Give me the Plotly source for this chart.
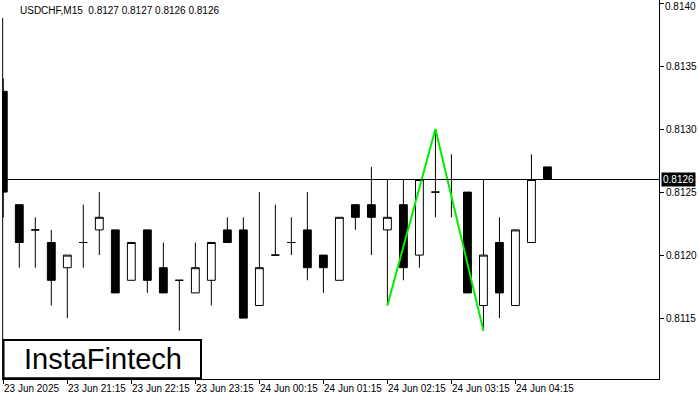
import plotly.graph_objects as go

# ---- data (USDCHF M15) ----
opens  = [0.8133, 0.8124, 0.8122, 0.8121, 0.8119, 0.8121, 0.8122, 0.8122, 0.8118, 0.8122,
          0.8119, 0.8118, 0.8117, 0.8118, 0.8122, 0.8122, 0.8116, 0.8120, 0.8121, 0.8122,
          0.8120, 0.8118, 0.8124, 0.8124, 0.8122, 0.8124, 0.8120, 0.8125, 0.8126, 0.8125,
          0.8116, 0.8121, 0.8116, 0.8121, 0.8127]
highs  = [0.8134, 0.8124, 0.8123, 0.8122, 0.8120, 0.8124, 0.8125, 0.8122, 0.8121, 0.8122,
          0.8121, 0.8118, 0.8121, 0.8121, 0.8123, 0.8123, 0.8125, 0.8124, 0.8123, 0.8125,
          0.8120, 0.8123, 0.8124, 0.8127, 0.8126, 0.8126, 0.8126, 0.8130, 0.8128, 0.8125,
          0.8126, 0.8123, 0.8122, 0.8128, 0.8127]
lows   = [0.8123, 0.8119, 0.8119, 0.8116, 0.8115, 0.8119, 0.8120, 0.8117, 0.8118, 0.8117,
          0.8117, 0.8114, 0.8117, 0.8116, 0.8121, 0.8115, 0.8116, 0.8120, 0.8120, 0.8118,
          0.8117, 0.8118, 0.8122, 0.8120, 0.8116, 0.8118, 0.8119, 0.8123, 0.8123, 0.8117,
          0.8114, 0.8115, 0.8116, 0.8121, 0.8126]
closes = [0.8125, 0.8121, 0.8122, 0.8118, 0.8120, 0.8121, 0.8123, 0.8117, 0.8121, 0.8118,
          0.8117, 0.8118, 0.8119, 0.8121, 0.8121, 0.8115, 0.8119, 0.8120, 0.8121, 0.8119,
          0.8119, 0.8123, 0.8123, 0.8123, 0.8123, 0.8119, 0.8126, 0.8125, 0.8126, 0.8117,
          0.8120, 0.8117, 0.8122, 0.8126, 0.8126]

tick_idx = [0, 4, 8, 12, 16, 20, 24, 28, 32]
tick_labels = ["23 Jun 2025", "23 Jun 21:15", "23 Jun 22:15", "23 Jun 23:15",
               "24 Jun 00:15", "24 Jun 01:15", "24 Jun 02:15", "24 Jun 03:15",
               "24 Jun 04:15"]
price_ticks = [0.8115, 0.8120, 0.8125, 0.8130, 0.8135, 0.8140]

pattern_idx = [24, 27, 30]
pattern_px = [0.8116, 0.8130, 0.8114]

last_price = 0.8126
title_text = "USDCHF,M15  0.8127 0.8127 0.8126 0.8126"
logo_text = "InstaFintech"

x = list(range(len(opens)))
FONT = "Liberation Sans, Arial, sans-serif"
Y_RANGE = [0.8110167, 0.8140246]

fig = go.Figure()
fig.add_trace(go.Candlestick(
    x=x, open=opens, high=highs, low=lows, close=closes,
    increasing=dict(fillcolor="white", line=dict(color="black", width=1)),
    decreasing=dict(fillcolor="black", line=dict(color="black", width=1)),
    whiskerwidth=0, hoverinfo="skip", showlegend=False,
))
fig.add_trace(go.Scatter(
    x=pattern_idx, y=pattern_px, mode="lines",
    line=dict(color="#00ee00", width=2), hoverinfo="skip", showlegend=False,
))

# x-axis labels as annotations, left-aligned at the tick (MT4 style)
annotations = [
    dict(text=lab, xref="x", yref="paper", x=i, y=0, xanchor="left", yanchor="top",
         yshift=-2, xshift=-1, showarrow=False, font=dict(family=FONT, size=10, color="black"))
    for i, lab in zip(tick_idx, tick_labels)
]
# price label at the very top edge (plotly drops it), kept fully inside the page
top_ticks = [v for v in price_ticks if v > Y_RANGE[1] - 0.00005]
annotations += [
    dict(text=f"{v:.4f}", xref="paper", yref="paper", x=1, y=1, xanchor="left",
         yanchor="top", xshift=5, showarrow=False, borderpad=0,
         font=dict(family=FONT, size=10, color="black"))
    for v in top_ticks
]
annotations += [
    dict(text=title_text, xref="paper", yref="paper", x=16 / 657, y=(379 - 10) / 379,
         xanchor="left", yanchor="middle", showarrow=False,
         font=dict(family=FONT, size=10, color="black")),
    dict(text=f"{last_price:.4f}", xref="paper", yref="y", x=1, y=last_price,
         xanchor="left", yanchor="middle", xshift=2, showarrow=False,
         bgcolor="black", borderpad=1,
         font=dict(family=FONT, size=10, color="white")),
    dict(text=logo_text, xref="paper", yref="paper", x=101 / 657,
         y=(379 - 359) / 379, xanchor="center", yanchor="middle", showarrow=False,
         font=dict(family=FONT, size=29, color="black")),
]

fig.update_layout(
    width=700, height=400,
    margin=dict(l=2, r=41, t=0, b=21, autoexpand=False),
    paper_bgcolor="white", plot_bgcolor="white",
    boxgap=0.3,
    font=dict(family=FONT, size=10, color="black"),
    xaxis=dict(
        range=[-0.08, 40.97], rangeslider=dict(visible=False),
        showgrid=False, zeroline=False, automargin=False,
        showline=True, linecolor="black", linewidth=1,
        tickmode="array", tickvals=tick_idx, ticktext=[""] * len(tick_idx),
        ticks="outside", ticklen=4, tickcolor="black",
    ),
    yaxis=dict(
        side="right", range=Y_RANGE,
        showgrid=False, zeroline=False, automargin=False,
        showline=True, linecolor="black", linewidth=1,
        tickmode="array", tickvals=price_ticks,
        ticktext=["" if v in top_ticks else f"{v:.4f}" for v in price_ticks],
        ticks="outside", ticklen=4, tickcolor="black",
        tickfont=dict(family=FONT, size=10, color="black"),
    ),
    shapes=[
        dict(type="line", xref="paper", yref="y", x0=0, x1=1,
             y0=last_price, y1=last_price, line=dict(color="black", width=1), layer="above"),
        dict(type="line", xref="paper", yref="paper", x0=0.001, x1=0.001,
             y0=0, y1=(379 - 18) / 379, line=dict(color="black", width=1)),
        dict(type="rect", xref="paper", yref="paper",
             x0=1.5 / 657, x1=199 / 657, y0=0.002, y1=(379 - 340) / 379,
             line=dict(color="black", width=2), fillcolor="white", layer="above"),
    ],
    annotations=annotations,
)

fig.write_html("out.html", config={"displayModeBar": False},
               post_script="document.body.style.margin='0';")
